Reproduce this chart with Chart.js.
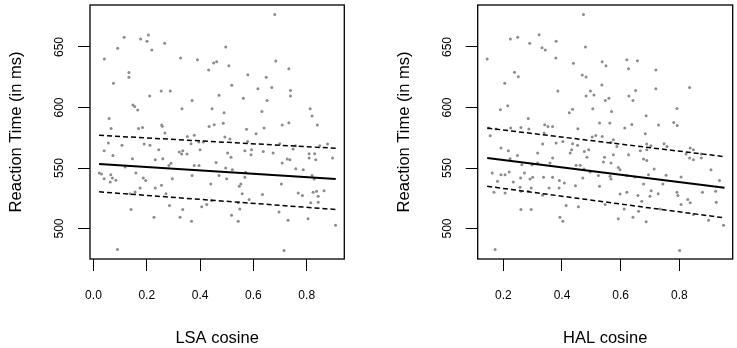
<!DOCTYPE html>
<html>
<head>
<meta charset="utf-8">
<script src="https://cdn.jsdelivr.net/npm/chart.js"></script>
<style>
body { margin: 0; background: #fff; }
#wrap { position: relative; width: 737px; height: 348px; }
canvas { position: absolute; top: 0; }
</style>
</head>
<body>
<div id="wrap">
  <canvas id="lsaChart" width="368" height="348" style="left:0"></canvas>
  <canvas id="halChart" width="369" height="348" style="left:368px"></canvas>
</div>
<script>
// Reaction time axis
const rtTicks = [500, 550, 600, 650];
const rtTickLabels = ['500', '550', '600', '650'];

// LSA panel: word pairs (cosine, RT)
const lsaX = [0.115, 0.177, 0.206, 0.201, 0.219, 0.267, 0.091, 0.041, 0.327, 0.39, 0.133, 0.133, 0.075, 0.254, 0.288,
  0.211, 0.37, 0.148, 0.155, 0.166, 0.332, 0.059, 0.066, 0.169, 0.184, 0.256, 0.258, 0.68, 0.496, 0.451,
  0.462, 0.432, 0.508, 0.684, 0.733, 0.579, 0.648, 0.519, 0.617, 0.669, 0.739, 0.739, 0.471, 0.562, 0.651,
  0.445, 0.49, 0.632, 0.813, 0.82, 0.434, 0.453, 0.487, 0.574, 0.64, 0.708, 0.733, 0.84, 0.268, 0.056,
  0.04, 0.107, 0.073, 0.19, 0.212, 0.245, 0.232, 0.26, 0.291, 0.283, 0.322, 0.335, 0.331, 0.351, 0.146,
  0.119, 0.022, 0.03, 0.04, 0.065, 0.071, 0.084, 0.063, 0.159, 0.187, 0.196, 0.175, 0.232, 0.255, 0.296,
  0.37, 0.378, 0.396, 0.137, 0.156, 0.272, 0.141, 0.285, 0.335, 0.227, 0.325, 0.368, 0.09, 0.378, 0.352,
  0.395, 0.61, 0.493, 0.512, 0.366, 0.412, 0.578, 0.699, 0.758, 0.749, 0.849, 0.878, 0.4, 0.503, 0.516,
  0.568, 0.593, 0.591, 0.637, 0.674, 0.809, 0.809, 0.83, 0.834, 0.897, 0.46, 0.496, 0.521, 0.471, 0.5,
  0.571, 0.568, 0.708, 0.727, 0.737, 0.759, 0.787, 0.82, 0.828, 0.44, 0.553, 0.547, 0.705, 0.558, 0.634,
  0.584, 0.443, 0.425, 0.406, 0.543, 0.549, 0.518, 0.543, 0.696, 0.73, 0.805, 0.768, 0.784, 0.824, 0.837,
  0.865, 0.843, 0.815, 0.843, 0.908, 0.715];
const lsaRT = [658, 656.6, 660, 654.7, 647.5, 653, 649, 640, 641, 639.5, 629, 625, 620, 613.7, 613.7,
  609.6, 605.7, 602, 600.8, 598, 599, 591, 582.7, 582.7, 583.5, 585.5, 584.5, 676.9, 650, 636.8,
  637.9, 631, 634.6, 638.5, 632, 627, 625, 618.4, 615.4, 616.5, 614, 609.6, 610.2, 607.7, 605.7,
  599, 595.6, 596.7, 599, 593, 584.3, 585.7, 587, 582, 583, 585.5, 587.4, 585.5, 578.9, 570.6,
  564.3, 568.7, 560.4, 569.8, 568.7, 565, 556.9, 557.7, 554, 552, 563.2, 564.3, 561.6, 561.6, 557.7,
  550.8, 545.9, 545.1, 541.2, 544.5, 541.8, 539.8, 538.5, 545.9, 541.8, 539.6, 533.5, 533.5, 535.7, 541.2,
  543.9, 552, 552, 528.8, 530.2, 528.8, 515.7, 519, 515.7, 509.3, 509.3, 506, 482.7, 577, 576,
  571.4, 578.3, 575.6, 574, 570, 571.4, 572, 570, 568.4, 565.7, 568.4, 569.8, 565.1, 562.4, 558.8,
  564.3, 565.1, 561, 563.7, 562.4, 561.8, 558.3, 561.8, 556.9, 558.3, 554.6, 550, 548.6, 543.7, 541.2,
  546.4, 542.4, 554.1, 557.4, 556.9, 549.3, 548.6, 543.7, 541, 536.8, 536.8, 534.9, 536.8, 528.8, 528,
  523.9, 523.1, 519.8, 517.9, 521.2, 516.2, 511, 506, 513.7, 506.9, 508, 529.3, 527.2, 529.9, 530.7,
  531.3, 526.6, 521.2, 521.7, 502.7, 481.9];
// LSA regression line and band
const lsaFitX = [0.021, 0.909];
const lsaFit = [553.3, 541.0];
const lsaUpper = [577.0, 566.3];
const lsaLower = [530.3, 515.7];
const lsaTicks = [0, 0.2, 0.4, 0.6, 0.8];
const lsaTickLabels = ['0.0', '0.2', '0.4', '0.6', '0.8'];

// HAL panel
const halX = [0.145, 0.224, 0.249, 0.322, 0.29, 0.332, 0.343, 0.38, 0.379, 0.238, 0.251, 0.205, 0.386, 0.425, 0.19,
  0.215, 0.285, 0.15, 0.175, 0.225, 0.26, 0.287, 0.341, 0.352, 0.368, 0.473, 0.48, 0.439, 0.537, 0.55,
  0.621, 0.657, 0.627, 0.72, 0.469, 0.482, 0.536, 0.497, 0.482, 0.509, 0.548, 0.56, 0.628, 0.651, 0.642,
  0.72, 0.835, 0.505, 0.569, 0.436, 0.687, 0.792, 0.454, 0.528, 0.563, 0.614, 0.638, 0.729, 0.781, 0.793,
  0.155, 0.339, 0.192, 0.217, 0.248, 0.223, 0.334, 0.317, 0.368, 0.359, 0.38, 0.403, 0.263, 0.298, 0.317,
  0.162, 0.192, 0.206, 0.22, 0.18, 0.234, 0.259, 0.272, 0.291, 0.3, 0.337, 0.368, 0.391, 0.408, 0.168,
  0.206, 0.257, 0.26, 0.285, 0.295, 0.334, 0.356, 0.39, 0.26, 0.295, 0.393, 0.403, 0.414, 0.172, 0.684,
  0.503, 0.515, 0.537, 0.436, 0.453, 0.433, 0.428, 0.476, 0.491, 0.485, 0.567, 0.575, 0.587, 0.575, 0.545,
  0.541, 0.567, 0.627, 0.667, 0.689, 0.689, 0.703, 0.748, 0.758, 0.678, 0.689, 0.837, 0.848, 0.823, 0.835,
  0.848, 0.875, 0.875, 0.448, 0.462, 0.475, 0.496, 0.524, 0.564, 0.567, 0.592, 0.598, 0.621, 0.649, 0.695,
  0.714, 0.755, 0.806, 0.908, 0.937, 0.471, 0.446, 0.528, 0.678, 0.744, 0.598, 0.621, 0.659, 0.704, 0.7,
  0.728, 0.792, 0.795, 0.672, 0.829, 0.837, 0.879, 0.924, 0.926, 0.547, 0.612, 0.661, 0.735, 0.806, 0.848,
  0.456, 0.592, 0.642, 0.687, 0.9, 0.951, 0.801];
const halRT = [640, 656.6, 658, 660.2, 653, 649.4, 647.5, 654.7, 641, 629.1, 625.5, 620.1, 613.7, 595.6, 598.1,
  601.4, 590.9, 583, 582.2, 583, 583.5, 582.2, 585.7, 584.3, 584.3, 676.9, 650, 636.6, 637.9, 634.6,
  639.5, 638.7, 632.1, 631, 626.9, 625.3, 618.5, 613.7, 609.6, 610.4, 605.7, 607.7, 609.6, 614, 605.7,
  615.4, 616.5, 598.9, 596.7, 598.6, 593.1, 599.2, 582.4, 587.1, 587.1, 583, 586, 585.5, 587.6, 585.2,
  576.6, 578.9, 566.5, 564.3, 560.4, 557.7, 569.8, 562.4, 558.3, 554.1, 570.6, 572, 552.7, 552.7, 554.1,
  545.9, 544.5, 544.5, 546.7, 539, 538.5, 541.8, 545.9, 541, 542.4, 542.4, 542.4, 539.6, 537.7, 529.9,
  529.4, 534, 530.8, 530.8, 533.5, 527.4, 533.5, 533.5, 515.7, 515.7, 509.3, 506, 519, 482.7, 578.3,
  575.6, 576.9, 576, 570, 568.7, 565, 562.4, 563.7, 565, 558.8, 571.1, 573.3, 567.8, 561, 558.8,
  555, 554.1, 561, 564.3, 565, 569.8, 568.4, 570, 567.8, 557.4, 556.3, 566.5, 565, 561.6, 558.3,
  556.9, 561.6, 558.3, 552.2, 552.2, 549.2, 546.7, 543.7, 543.1, 541, 550.5, 548.6, 543.7, 542.6, 544.5,
  549.2, 544, 542.6, 548.6, 539.6, 541.8, 535.4, 534.9, 536.8, 536.8, 528.6, 529.9, 527.2, 531.3, 526.6,
  528.8, 529.9, 527.2, 522.5, 523.9, 521.2, 529.9, 530.8, 521.7, 519.8, 516.2, 514.3, 516.2, 519.8, 511.5,
  517.9, 508, 509.3, 505.5, 506.9, 502.7, 481.9];
const halFitX = [0.145, 0.954];
const halFit = [558.3, 533.6];
const halUpper = [583.0, 559.4];
const halLower = [534.9, 508.8];
const halTicks = [0.2, 0.4, 0.6, 0.8];
const halTickLabels = ['0.2', '0.4', '0.6', '0.8'];

const FONT = '"Liberation Sans", Arial, sans-serif';

// draws the R style box and the vertical y tick labels
const boxPlugin = {
    id: 'rbox',
    afterDraw(chart) {
        const { ctx, chartArea: a, scales } = chart;
        ctx.save();
        ctx.strokeStyle = '#000';
        ctx.lineWidth = 1.3;
        ctx.strokeRect(a.left, a.top, a.right - a.left, a.bottom - a.top);
        ctx.fillStyle = '#000';
        ctx.font = '12px ' + FONT;
        ctx.textAlign = 'center';
        ctx.textBaseline = 'middle';
        rtTicks.forEach((v, i) => {
            const y = scales.y.getPixelForValue(v);
            ctx.save();
            ctx.translate(a.left - 30, y);
            ctx.rotate(-Math.PI / 2);
            ctx.fillText(rtTickLabels[i], 0, 0);
            ctx.restore();
        });
        ctx.restore();
    }
};

function zip(xs, ys) {
    return xs.map((x, i) => ({ x: x, y: ys[i] }));
}

function makePanel(id, xs, ys, fitX, fit, upper, lower, xMin, xMax, xTicks, xLabels, xTitle, padLeft, padRight) {
    const lineBase = { showLine: true, pointRadius: 0, borderColor: '#000', fill: false };
    new Chart(document.getElementById(id), {
        type: 'scatter',
        data: {
            datasets: [
                Object.assign({ data: zip(fitX, fit), borderWidth: 2 }, lineBase),
                Object.assign({ data: zip(fitX, upper), borderWidth: 1.5, borderDash: [5, 3] }, lineBase),
                Object.assign({ data: zip(fitX, lower), borderWidth: 1.5, borderDash: [5, 3] }, lineBase),
                {
                    data: zip(xs, ys),
                    pointRadius: 1.5,
                    pointBackgroundColor: '#8c8c8c',
                    pointBorderWidth: 0,
                    showLine: false
                }
            ]
        },
        options: {
            responsive: false,
            animation: false,
            events: [],
            layout: { padding: { left: padLeft, right: padRight, top: 5, bottom: 0 } },
            plugins: { legend: { display: false }, tooltip: { enabled: false } },
            scales: {
                x: {
                    type: 'linear',
                    min: xMin,
                    max: xMax,
                    afterBuildTicks: s => { s.ticks = xTicks.map(v => ({ value: v })); },
                    afterFit: s => { s.height = 89; },
                    border: { display: false },
                    grid: { drawOnChartArea: false, drawTicks: true, tickLength: 12, color: '#000', lineWidth: 1 },
                    ticks: {
                        color: '#000',
                        font: { family: FONT, size: 12 },
                        padding: 17,
                        maxRotation: 0,
                        autoSkip: false,
                        callback: v => xLabels[xTicks.indexOf(v)]
                    },
                    title: {
                        display: true,
                        text: xTitle,
                        color: '#000',
                        font: { family: FONT, size: 16.5 },
                        padding: { top: 0, bottom: 0 }
                    }
                },
                y: {
                    type: 'linear',
                    min: 474.8,
                    max: 684.7,
                    afterBuildTicks: s => { s.ticks = rtTicks.map(v => ({ value: v })); },
                    afterFit: s => { s.width = 90; },
                    border: { display: false },
                    grid: { drawOnChartArea: false, drawTicks: true, tickLength: 12, color: '#000', lineWidth: 1 },
                    ticks: { display: false },
                    title: {
                        display: true,
                        text: 'Reaction Time (in ms)',
                        color: '#000',
                        font: { family: FONT, size: 16.5 },
                        padding: { top: 6.5, bottom: 0 }
                    }
                }
            }
        },
        plugins: [boxPlugin]
    });
}

makePanel('lsaChart', lsaX, lsaRT, lsaFitX, lsaFit, lsaUpper, lsaLower, -0.013, 0.941,
    lsaTicks, lsaTickLabels, 'LSA cosine', 0, 23.7);
makePanel('halChart', halX, halRT, halFitX, halFit, halUpper, halLower, 0.1126, 0.982,
    halTicks, halTickLabels, 'HAL cosine', 19.7, 4.3);
</script>
</body>
</html>
